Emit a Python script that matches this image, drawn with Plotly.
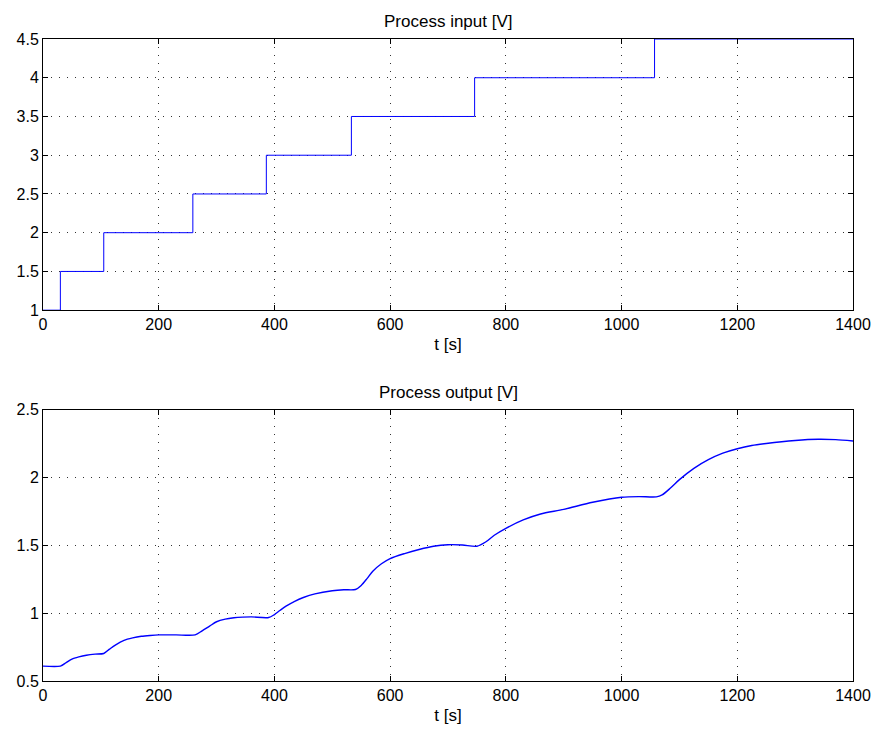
import plotly.graph_objects as go

# ---- data ----
t_in = [0, 30, 105, 259, 386, 533, 746, 1057, 1400]
u_in = [1.0, 1.5, 2.0, 2.5, 3.0, 3.5, 4.0, 4.5, 4.5]

t_out = [0, 30, 40, 50, 62, 75, 90, 105, 115, 125, 140, 155, 170, 185, 200, 230, 263,
         275, 288, 300, 315, 330, 345, 360, 390, 400, 410, 420, 435, 450, 470, 500, 520, 540,
         550, 560, 570, 585, 600, 625, 650, 675, 700, 725, 750, 765, 780, 800, 830, 860, 900,
         950, 1000, 1030, 1060, 1070, 1085, 1100, 1125, 1150, 1175, 1200, 1225, 1250, 1300,
         1340, 1370, 1400]
y_out = [0.61, 0.61, 0.635, 0.662, 0.678, 0.69, 0.698, 0.703, 0.735, 0.765, 0.80, 0.818, 0.83, 0.836, 0.84, 0.84, 0.84,
         0.87, 0.905, 0.937, 0.956, 0.966, 0.971, 0.973, 0.968, 0.99, 1.022, 1.052, 1.088, 1.116, 1.143, 1.166, 1.173, 1.175,
         1.205, 1.255, 1.31, 1.365, 1.403, 1.44, 1.47, 1.494, 1.505, 1.503, 1.494, 1.525, 1.575, 1.626, 1.688, 1.732, 1.766,
         1.818, 1.855, 1.86, 1.858, 1.872, 1.925, 1.985, 2.068, 2.132, 2.18, 2.213, 2.237, 2.252, 2.274,
         2.283, 2.28, 2.27]

FONT = "Liberation Sans, Arial, Helvetica, sans-serif"
BLUE = "#0000ff"

fig = go.Figure()
fig.add_trace(go.Scatter(x=t_in, y=u_in, mode="lines", line=dict(color=BLUE, width=1, shape="hv"),
                         xaxis="x", yaxis="y", showlegend=False))
fig.add_trace(go.Scatter(x=t_out, y=y_out, mode="lines", line=dict(color=BLUE, width=1.4, shape="spline", smoothing=0.8),
                         xaxis="x2", yaxis="y2", showlegend=False))

axis_common = dict(showline=True, linecolor="black", linewidth=1, mirror="ticks",
                   ticks="inside", ticklen=5, tickcolor="black",
                   showgrid=True, gridcolor="rgba(0,0,0,0.8)", griddash="1px,7px", gridwidth=1,
                   zeroline=False, tickfont=dict(size=16, color="black", family=FONT))

fig.update_layout(
    width=883, height=733,
    margin=dict(l=43, r=24, t=39, b=50),
    paper_bgcolor="white", plot_bgcolor="white",
    font=dict(family=FONT, color="black"),
    xaxis=dict(domain=[0, 1], range=[0, 1400], tickvals=[0, 200, 400, 600, 800, 1000, 1200, 1400],
               anchor="y", title=dict(text="t [s]", font=dict(size=17), standoff=5), **axis_common),
    yaxis=dict(domain=[0.5776, 1], range=[1, 4.5], tickvals=[1, 1.5, 2, 2.5, 3, 3.5, 4, 4.5],
               ticktext=["1", "1.5", "2", "2.5", "3", "3.5", "4", "4.5"], anchor="x", **axis_common),
    xaxis2=dict(domain=[0, 1], range=[0, 1400], tickvals=[0, 200, 400, 600, 800, 1000, 1200, 1400],
                anchor="y2", title=dict(text="t [s]", font=dict(size=17), standoff=5), **axis_common),
    yaxis2=dict(domain=[0, 0.4224], range=[0.5, 2.5], tickvals=[0.5, 1, 1.5, 2, 2.5],
                ticktext=["0.5", "1", "1.5", "2", "2.5"], anchor="x2", **axis_common),
    annotations=[
        dict(text="Process input [V]", x=0.5, y=1, xref="paper", yref="paper", xanchor="center",
             yanchor="bottom", yshift=6, showarrow=False, font=dict(size=17, color="black")),
        dict(text="Process output [V]", x=0.5, y=0.4224, xref="paper", yref="paper", xanchor="center",
             yanchor="bottom", yshift=6, showarrow=False, font=dict(size=17, color="black")),
    ],
)

fig.write_html("out.html")
